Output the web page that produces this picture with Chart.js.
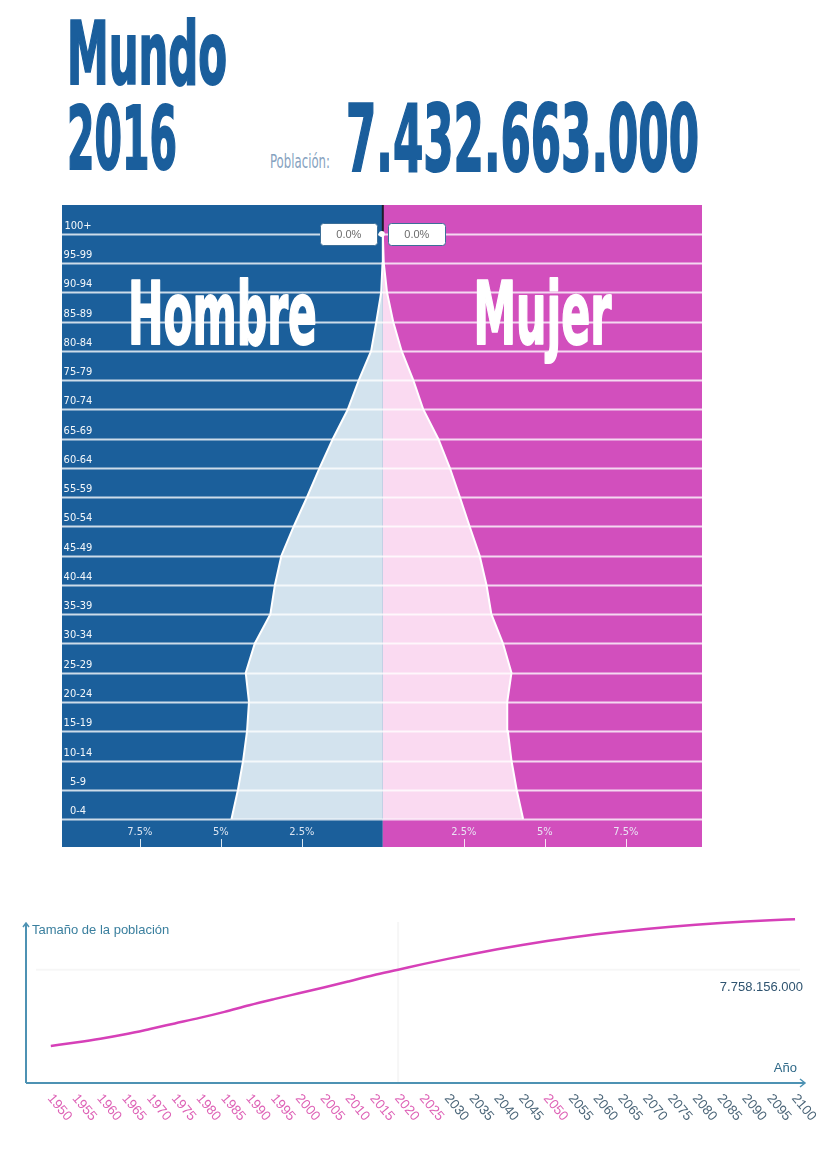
<!DOCTYPE html>
<html lang="es">
<head>
<meta charset="utf-8">
<title>Mundo 2016 – Pirámide de población</title>
<script src="https://cdn.jsdelivr.net/npm/chart.js@4/dist/chart.umd.min.js"></script>
<style>
  html, body { margin: 0; padding: 0; background: #fff; }
  body { width: 822px; height: 1153px; position: relative; overflow: hidden; font-family: "Liberation Sans", Arial, sans-serif; }
  .big { position: absolute; font-family: "DejaVu Sans Condensed", "DejaVu Sans", sans-serif; font-weight: bold; color: #1a5e9c;
         -webkit-text-stroke: 2px #1a5e9c; line-height: 1; white-space: nowrap; transform-origin: 0 0; }
  #lblPob { position: absolute; font-family: "DejaVu Sans Condensed", "DejaVu Sans", sans-serif; color: #86a2c0; line-height: 1; white-space: nowrap; transform-origin: 0 0; }
  #pyr { position: absolute; left: 62px; top: 205px; }
  #trend { position: absolute; left: 0; top: 900px; }
</style>
</head>
<body>
<div class="big" id="tMundo" style="left:67px; top:11px; font-size:87px;">Mundo</div>
<div class="big" id="tYear" style="left:67px; top:96px; font-size:87px;">2016</div>
<div id="lblPob" style="left:270px; top:152px; font-size:19px;">Población:</div>
<div class="big" id="tTotal" style="left:346px; top:93px; font-size:93px;"></div>

<canvas id="pyr" width="640" height="642"></canvas>
<canvas id="trend" width="822" height="230"></canvas>

<script>
// ---- Population pyramid, world 2016 (% of total population) ----
const ageGroups = ['0-4','5-9','10-14','15-19','20-24','25-29','30-34','35-39','40-44','45-49',
                   '50-54','55-59','60-64','65-69','70-74','75-79','80-84','85-89','90-94','95-99','100+'];
const malePct   = [4.67, 4.47, 4.31, 4.19, 4.13, 4.23, 3.95, 3.47, 3.33, 3.13,
                   2.75, 2.34, 1.95, 1.54, 1.08, 0.74, 0.36, 0.20, 0.05, 0.01, 0.00];
const femalePct = [4.33, 4.13, 3.97, 3.86, 3.84, 3.97, 3.71, 3.35, 3.20, 2.99,
                   2.68, 2.38, 2.07, 1.71, 1.25, 0.94, 0.58, 0.32, 0.13, 0.03, 0.00];
const pctTicks  = [-7.5, -5, -2.5, 2.5, 5, 7.5];
const totalPopulation2016 = 7432663000;

// ---- World population size by year ----
const years = [1950,1955,1960,1965,1970,1975,1980,1985,1990,1995,2000,2005,2010,2015,2020,2025,
               2030,2035,2040,2045,2050,2055,2060,2065,2070,2075,2080,2085,2090,2095,2100];
const population = [2536431000, 2773020000, 3034950000, 3339584000, 3700437000, 4079480000,
                    4458003000, 4870922000, 5327231000, 5744213000, 6143494000, 6541907000,
                    6956824000, 7379797000, 7758156000, 8141661000, 8500766000, 8838908000,
                    9157234000, 9453892000, 9725148000, 9968809000, 10184290000, 10375719000,
                    10547989000, 10701653000, 10836635000, 10953525000, 11055270000, 11142461000,
                    11213317000];
const markedYear = 2020;

const fmtDots = n => String(Math.round(n)).replace(/\B(?=(\d{3})+(?!\d))/g, '.');

// header
document.getElementById('tTotal').textContent = fmtDots(totalPopulation2016);
function fitWidth(id, w) {
  const el = document.getElementById(id);
  const r = el.getBoundingClientRect().width;
  el.style.transform = 'scaleX(' + (w / r) + ')';
}
fitWidth('tMundo', 160);
fitWidth('tYear', 110);
fitWidth('tTotal', 353);
fitWidth('lblPob', 60);

const BLUE = '#1b5f9b';
const PINK = '#d24fbd';
const LABEL_FONT = '"Liberation Sans Narrow", "DejaVu Sans Condensed", "Liberation Sans", sans-serif';

// ---- pyramid decorations: halves, grid, labels ----
const pyramidDecor = {
  id: 'pyramidDecor',
  beforeDraw(chart) {
    const { ctx, width, height, scales: { x } } = chart;
    const cx = x.getPixelForValue(0);
    ctx.save();
    ctx.fillStyle = BLUE;
    ctx.fillRect(0, 0, cx, height);
    ctx.fillStyle = PINK;
    ctx.fillRect(cx, 0, width - cx, height);
    ctx.restore();
  },
  afterDatasetsDraw(chart) {
    const { ctx, width, height, scales: { x, y } } = chart;
    const cx = x.getPixelForValue(0);
    ctx.save();

    // dark divider above the apex
    ctx.strokeStyle = '#1d1d2a';
    ctx.lineWidth = 2;
    ctx.beginPath();
    ctx.moveTo(cx, 0);
    ctx.lineTo(cx, y.getPixelForValue(ageGroups.length - 1));
    ctx.stroke();

    // horizontal grid lines at each age group
    ctx.strokeStyle = 'rgba(255,255,255,0.78)';
    ctx.lineWidth = 2;
    ageGroups.forEach((g, i) => {
      const py = Math.round(y.getPixelForValue(i)) + 0.5;
      ctx.beginPath();
      ctx.moveTo(0, py);
      ctx.lineTo(width, py);
      ctx.stroke();
    });

    // age group labels
    ctx.fillStyle = 'rgba(255,255,255,0.95)';
    ctx.font = '11px ' + LABEL_FONT;
    ctx.textAlign = 'center';
    ctx.textBaseline = 'alphabetic';
    ageGroups.forEach((g, i) => {
      ctx.fillText(g, 16, y.getPixelForValue(i) - 5);
    });

    // percentage axis in bottom band
    ctx.font = '11px ' + LABEL_FONT;
    ctx.textBaseline = 'middle';
    ctx.strokeStyle = 'rgba(255,255,255,0.85)';
    ctx.lineWidth = 1;
    pctTicks.forEach(v => {
      const px = x.getPixelForValue(v);
      ctx.fillStyle = 'rgba(235,240,248,0.92)';
      ctx.fillText(Math.abs(v) + '%', px, height - 15);
      ctx.beginPath();
      ctx.moveTo(Math.round(px) + 0.5, height - 8);
      ctx.lineTo(Math.round(px) + 0.5, height);
      ctx.stroke();
    });

    // value boxes for the oldest group
    const top = ageGroups.length - 1;
    const ty = y.getPixelForValue(top);
    const boxes = [
      { text: malePct[top].toFixed(1) + '%', x: cx - 5 - 58 },
      { text: femalePct[top].toFixed(1) + '%', x: cx + 5 }
    ];
    ctx.font = '11px "Liberation Sans", sans-serif';
    ctx.textAlign = 'center';
    ctx.textBaseline = 'middle';
    boxes.forEach(b => {
      ctx.fillStyle = '#ffffff';
      ctx.strokeStyle = '#3d6f98';
      ctx.lineWidth = 1;
      ctx.beginPath();
      ctx.roundRect(Math.round(b.x) + 0.5, Math.round(ty - 11) + 0.5, 57, 22, 3);
      ctx.fill();
      ctx.stroke();
      ctx.fillStyle = '#6b6b6b';
      ctx.fillText(b.text, b.x + 29, ty + 1);
    });
    ctx.fillStyle = '#ffffff';
    ctx.beginPath();
    ctx.arc(cx - 1, ty, 3, 0, Math.PI * 2);
    ctx.fill();

    // side titles
    const titleY = y.getPixelForValue(16.25);
    const drawTitle = (txt, centerX, w) => {
      ctx.save();
      ctx.font = 'bold 88px "DejaVu Sans Condensed", "DejaVu Sans", sans-serif';
      ctx.textAlign = 'center';
      ctx.textBaseline = 'alphabetic';
      const m = ctx.measureText(txt).width;
      ctx.translate(centerX, titleY);
      ctx.scale(w / m, 1);
      ctx.fillStyle = '#ffffff';
      ctx.strokeStyle = '#ffffff';
      ctx.lineWidth = 2;
      ctx.lineJoin = 'round';
      ctx.strokeText(txt, 0, 0);
      ctx.fillText(txt, 0, 0);
      ctx.restore();
    };
    drawTitle('Hombre', cx / 2, 189);
    drawTitle('Mujer', (cx + width) / 2, 138);

    ctx.restore();
  }
};

new Chart(document.getElementById('pyr'), {
  type: 'line',
  data: {
    datasets: [
      {
        label: 'Hombre',
        data: ageGroups.map((g, i) => ({ x: -malePct[i], y: i })),
        fill: 'origin',
        backgroundColor: '#d3e3ee',
        borderColor: '#ffffff',
        borderWidth: 2,
        pointRadius: 0,
        tension: 0
      },
      {
        label: 'Mujer',
        data: ageGroups.map((g, i) => ({ x: femalePct[i], y: i })),
        fill: 'origin',
        backgroundColor: '#fadaf1',
        borderColor: '#ffffff',
        borderWidth: 2,
        pointRadius: 0,
        tension: 0
      }
    ]
  },
  options: {
    indexAxis: 'y',
    responsive: false,
    animation: false,
    events: [],
    layout: { padding: 0 },
    plugins: { legend: { display: false }, tooltip: { enabled: false } },
    scales: {
      x: { type: 'linear', min: -9.9, max: 9.85, display: false },
      y: { type: 'linear', min: -0.957, max: 20.99, display: false }
    }
  },
  plugins: [pyramidDecor]
});

// ---- population trend decorations: axes with arrows, labels ----
const trendDecor = {
  id: 'trendDecor',
  beforeDatasetsDraw(chart) {
    const { ctx, chartArea: a, scales: { x, y } } = chart;
    const i = years.indexOf(markedYear);
    const px = x.getPixelForValue(markedYear);
    const py = y.getPixelForValue(population[i]);
    ctx.save();
    ctx.strokeStyle = 'rgba(0,0,0,0.035)';
    ctx.lineWidth = 2;
    ctx.beginPath();
    ctx.moveTo(px, a.top + 4);
    ctx.lineTo(px, a.bottom);
    ctx.moveTo(a.left + 10, py);
    ctx.lineTo(a.right, py);
    ctx.stroke();
    ctx.restore();
  },
  afterDraw(chart) {
    const { ctx, chartArea: a, scales: { x, y } } = chart;
    ctx.save();
    const axisColor = '#4d92b3';
    ctx.strokeStyle = axisColor;
    ctx.lineWidth = 2;
    ctx.beginPath();
    ctx.moveTo(a.left, a.bottom);
    ctx.lineTo(a.left, a.top + 5);
    ctx.moveTo(a.left, a.bottom);
    ctx.lineTo(a.right + 4, a.bottom);
    ctx.stroke();
    // arrow heads
    ctx.lineWidth = 1.5;
    ctx.beginPath();
    ctx.moveTo(a.left - 3, a.top + 9);
    ctx.lineTo(a.left, a.top + 5);
    ctx.lineTo(a.left + 3, a.top + 9);
    ctx.moveTo(a.right, a.bottom - 4);
    ctx.lineTo(a.right + 5, a.bottom);
    ctx.lineTo(a.right, a.bottom + 4);
    ctx.stroke();

    // axis titles
    ctx.font = '13px "Liberation Sans", sans-serif';
    ctx.textBaseline = 'middle';
    ctx.fillStyle = '#3a7f9e';
    ctx.textAlign = 'left';
    ctx.fillText('Tamaño de la población', a.left + 6, a.top + 12);
    ctx.fillStyle = '#2e6887';
    ctx.textAlign = 'right';
    ctx.fillText('Año', a.right - 3, a.bottom - 15);

    // value of the marked year
    const i = years.indexOf(markedYear);
    ctx.fillStyle = '#2f5470';
    ctx.textAlign = 'right';
    ctx.fillText(fmtDots(population[i]), a.right + 3, y.getPixelForValue(population[i]) + 18);

    // rotated year labels
    ctx.font = '13.5px "Liberation Sans", sans-serif';
    ctx.textAlign = 'left';
    ctx.textBaseline = 'middle';
    years.forEach(yr => {
      const px = x.getPixelForValue(yr);
      ctx.save();
      ctx.translate(px - 1, a.bottom + 13);
      ctx.rotate(50 * Math.PI / 180);
      ctx.fillStyle = (yr <= 2025 || yr === 2050) ? '#de62b6' : '#4c6679';
      ctx.fillText(String(yr), 0, 0);
      ctx.restore();
    });
    ctx.restore();
  }
};

new Chart(document.getElementById('trend'), {
  type: 'line',
  data: {
    datasets: [{
      label: 'Población',
      data: years.map((yr, i) => ({ x: yr, y: population[i] })),
      borderColor: '#d640b8',
      borderWidth: 2.5,
      pointRadius: 0,
      fill: false,
      cubicInterpolationMode: 'monotone'
    }]
  },
  options: {
    responsive: false,
    animation: false,
    events: [],
    layout: { padding: { left: 26, right: 22, top: 18, bottom: 47 } },
    plugins: { legend: { display: false }, tooltip: { enabled: false } },
    scales: {
      x: { type: 'linear', min: 1945, max: 2101, display: false },
      y: { type: 'linear', min: 0, max: 11.3e9, display: false }
    }
  },
  plugins: [trendDecor]
});
</script>
</body>
</html>
